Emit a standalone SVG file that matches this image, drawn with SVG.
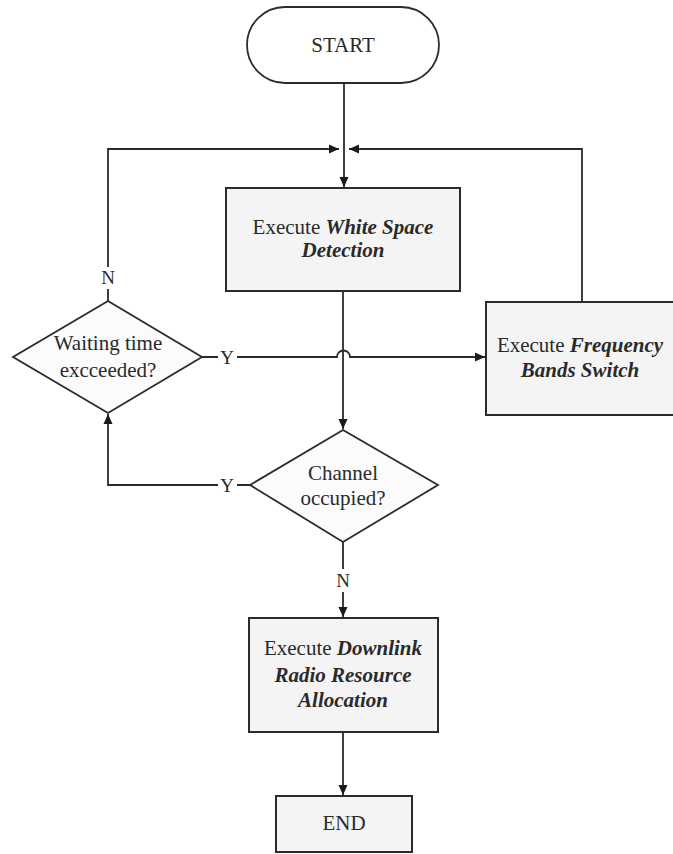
<svg xmlns="http://www.w3.org/2000/svg" width="673" height="854" viewBox="0 0 673 854">
<style>
.ln{fill:none;stroke:#2b2b2b;stroke-width:1.8}
.box{fill:#f4f4f4;stroke:#2b2b2b;stroke-width:2}
.dia{fill:#fbfbfb;stroke:#2b2b2b;stroke-width:1.8}
.pill{fill:#ffffff;stroke:#2b2b2b;stroke-width:1.8}
text{font-family:"Liberation Serif","Times New Roman",serif;font-size:21px;fill:#2a2a2a;text-anchor:middle}
.bi{font-weight:bold;font-style:italic}
.lbl{font-size:19px}
</style>
<defs>
<marker id="ah" viewBox="0 0 10 10" refX="10" refY="5" markerWidth="10" markerHeight="10" markerUnits="userSpaceOnUse" orient="auto">
<path d="M0,0.5 L10,5 L0,9.5 Z" fill="#1a1a1a"/>
</marker>
</defs>
<rect width="673" height="854" fill="#ffffff"/>
<g id="connectors">
<path class="ln" d="M344,83 V187" marker-end="url(#ah)"/>
<path class="ln" d="M108,301 V289 M108,267 V149 H339" marker-end="url(#ah)"/>
<path class="ln" d="M582,302 V149 H349" marker-end="url(#ah)"/>
<path class="ln" d="M343,291 V429" marker-end="url(#ah)"/>
<path class="ln" d="M202,357 H218 M237,357 H337 A6.5,6.5 0 0 1 350,357 H485" marker-end="url(#ah)"/>
<path class="ln" d="M250,485 H237 M218,485 H108 V414" marker-end="url(#ah)"/>
<path class="ln" d="M343,542 V569 M343,592 V617" marker-end="url(#ah)"/>
<path class="ln" d="M343,733 V795" marker-end="url(#ah)"/>
<text class="lbl" x="108" y="284">N</text>
<text class="lbl" x="227" y="364">Y</text>
<text class="lbl" x="227" y="492">Y</text>
<text class="lbl" x="343" y="587">N</text>
</g>
<g id="start">
<rect class="pill" x="247" y="7" width="192" height="76" rx="38" ry="38"/>
<text x="343" y="52">START</text>
</g>
<g id="white-space-detection">
<rect class="box" x="226" y="188" width="234" height="103"/>
<text x="343" y="234">Execute <tspan class="bi">White Space</tspan></text>
<text x="343" y="257" class="bi">Detection</text>
</g>
<g id="waiting-time">
<polygon class="dia" points="108,301 202,357 108,413 13,357"/>
<text x="108" y="350">Waiting time</text>
<text x="108" y="377">excceeded?</text>
</g>
<g id="frequency-bands-switch">
<rect class="box" x="486" y="302" width="192" height="113"/>
<text x="580" y="352">Execute <tspan class="bi">Frequency</tspan></text>
<text x="580" y="377" class="bi">Bands Switch</text>
</g>
<g id="channel-occupied">
<polygon class="dia" points="343,430 438,485 343,542 250,485"/>
<text x="343" y="480">Channel</text>
<text x="343" y="505">occupied?</text>
</g>
<g id="downlink-allocation">
<rect class="box" x="249" y="618" width="189" height="114"/>
<text x="343" y="655">Execute <tspan class="bi">Downlink</tspan></text>
<text x="343" y="682" class="bi">Radio Resource</text>
<text x="343" y="707" class="bi">Allocation</text>
</g>
<g id="end">
<rect class="box" x="276" y="796" width="136" height="56"/>
<text x="344" y="830">END</text>
</g>
</svg>
